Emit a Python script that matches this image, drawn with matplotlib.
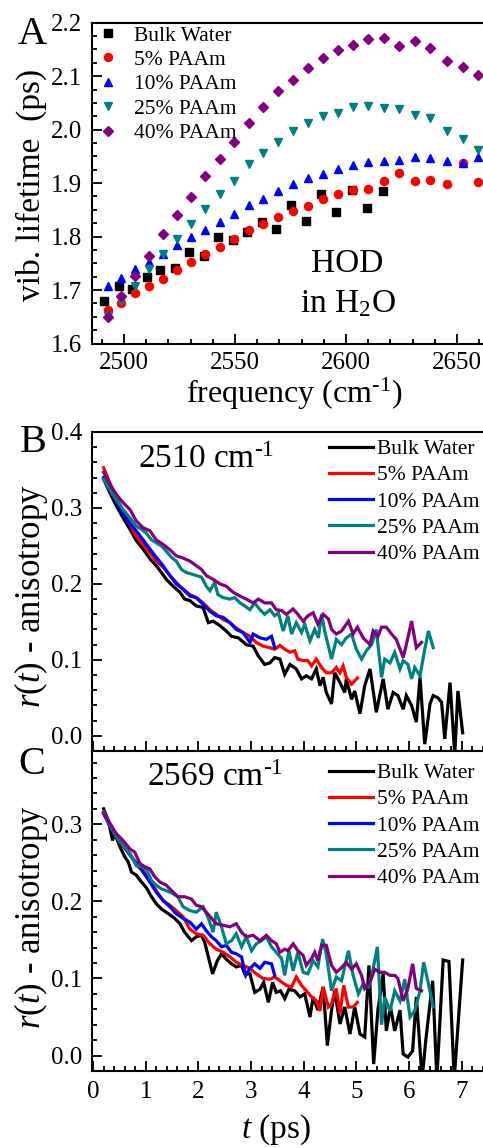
import matplotlib
matplotlib.use("Agg")
import matplotlib.pyplot as plt
from matplotlib.ticker import MultipleLocator, FormatStrFormatter

plt.rcParams['font.family'] = ['Liberation Serif', 'DejaVu Serif']
plt.rcParams['mathtext.fontset'] = 'custom'
plt.rcParams['mathtext.rm'] = 'Liberation Serif'
plt.rcParams['mathtext.it'] = 'Liberation Serif:italic'
plt.rcParams['savefig.bbox'] = 'standard'

# ---------------- Panel A data ----------------
freq = [2492.6, 2498.6, 2505.0, 2511.3, 2517.6, 2523.9, 2530.2, 2536.5, 2543.2, 2549.7,
        2556.3, 2562.8, 2569.4, 2576.3, 2582.7, 2589.6, 2596.4, 2603.3, 2610.1, 2617.0,
        2624.0, 2631.2, 2638.0, 2645.3, 2652.6, 2659.6]
freq_bulk = [2491.1, 2497.6, 2503.6, 2510.2, 2516.4, 2523.0, 2529.4, 2535.9, 2542.2, 2549.0,
             2555.4, 2562.0, 2568.6, 2575.2, 2582.0, 2588.7, 2595.6, 2602.6, 2609.5, 2616.5]
lt_bulk = [1.679, 1.708, 1.702, 1.724, 1.737, 1.741, 1.772, 1.764, 1.799, 1.794,
           1.809, 1.827, 1.815, 1.859, 1.830, 1.880, 1.846, 1.888, 1.853, 1.886]
lt_5 = [1.663, 1.676, 1.694, 1.707, 1.721, 1.737, 1.752, 1.768, 1.781, 1.796, 1.812, 1.823, 1.837,
        1.847, 1.857, 1.870, 1.879, 1.887, 1.889, 1.903, 1.918, 1.904, 1.906, 1.899, 1.937, 1.902]
lt_10 = [1.707, 1.723, 1.739, 1.752, 1.768, 1.784, 1.800, 1.813, 1.828, 1.843, 1.859, 1.871, 1.886,
         1.898, 1.909, 1.917, 1.927, 1.934, 1.940, 1.942, 1.944, 1.949, 1.947, 1.942, 1.938, 1.949]
lt_25 = [1.652, 1.679, 1.707, 1.739, 1.768, 1.795, 1.823, 1.851, 1.879, 1.903, 1.935, 1.957, 1.977,
         1.997, 2.013, 2.025, 2.031, 2.043, 2.044, 2.041, 2.039, 2.028, 2.021, 1.997, 1.982, 1.962]
lt_40 = [1.650, 1.689, 1.727, 1.764, 1.804, 1.840, 1.874, 1.913, 1.945, 1.977, 2.013, 2.042, 2.072,
         2.093, 2.115, 2.134, 2.149, 2.159, 2.169, 2.171, 2.157, 2.165, 2.152, 2.128, 2.117, 2.102]

labels = ['Bulk Water', '5% PAAm', '10% PAAm', '25% PAAm', '40% PAAm']
colors = ['#000000', '#ff0000', '#0000ff', '#008080', '#800080']

# ---------------- Panel B data (2510 cm-1) ----------------
tB_bulk = [0.20, 0.32, 0.44, 0.57, 0.70, 0.82, 0.95, 1.08, 1.20, 1.30, 1.39, 1.52, 1.65, 1.74, 1.84,
           1.96, 2.09, 2.19, 2.28, 2.41, 2.53, 2.63, 2.76, 2.91, 3.04, 3.14, 3.26, 3.36, 3.45, 3.55,
           3.64, 3.74, 3.86, 3.96, 4.05, 4.15, 4.24, 4.31, 4.37, 4.43, 4.53, 4.59, 4.69, 4.78, 4.81,
           4.91, 4.97, 5.07, 5.16, 5.26, 5.38, 5.51, 5.60, 5.70, 5.79, 5.89, 5.95, 6.05, 6.14, 6.21,
           6.30, 6.40, 6.46, 6.55, 6.62, 6.68, 6.78, 6.87, 6.93, 7.02]
rB_bulk = [0.338, 0.320, 0.303, 0.287, 0.272, 0.257, 0.246, 0.233, 0.224, 0.215, 0.206, 0.197, 0.189,
           0.180, 0.178, 0.171, 0.169, 0.149, 0.151, 0.145, 0.138, 0.131, 0.129, 0.120, 0.118, 0.105,
           0.094, 0.096, 0.103, 0.101, 0.081, 0.094, 0.088, 0.075, 0.079, 0.075, 0.088, 0.066, 0.077,
           0.057, 0.042, 0.083, 0.070, 0.057, 0.075, 0.048, 0.059, 0.029, 0.066, 0.088, 0.031, 0.075,
           0.035, 0.057, 0.053, 0.035, 0.053, 0.040, 0.018, 0.077, -0.011, 0.042, 0.053, 0.050, 0.044,
           -0.004, 0.070, -0.025, 0.059, 0.004]
tB_5 = [0.20, 0.32, 0.44, 0.57, 0.70, 0.82, 0.95, 1.08, 1.20, 1.33, 1.46, 1.58, 1.71, 1.84, 1.96,
        2.09, 2.22, 2.34, 2.47, 2.60, 2.72, 2.85, 2.98, 3.10, 3.23, 3.36, 3.45, 3.55, 3.64, 3.74,
        3.83, 3.89, 3.99, 4.08, 4.15, 4.24, 4.34, 4.43, 4.53, 4.62, 4.69, 4.75, 4.81, 4.91, 5.02]
rB_5 = [0.353, 0.333, 0.314, 0.296, 0.279, 0.263, 0.252, 0.241, 0.230, 0.222, 0.211, 0.202, 0.193,
        0.186, 0.182, 0.175, 0.166, 0.160, 0.153, 0.149, 0.142, 0.136, 0.131, 0.123, 0.118, 0.116,
        0.114, 0.119, 0.114, 0.110, 0.112, 0.101, 0.099, 0.099, 0.092, 0.101, 0.090, 0.083, 0.083,
        0.090, 0.083, 0.092, 0.077, 0.068, 0.076]
tB_10 = [0.20, 0.32, 0.44, 0.57, 0.70, 0.82, 0.95, 1.08, 1.20, 1.33, 1.46, 1.58, 1.71, 1.84, 1.96,
         2.09, 2.22, 2.34, 2.47, 2.60, 2.72, 2.85, 2.98, 3.04, 3.17, 3.29, 3.39, 3.45]
rB_10 = [0.340, 0.324, 0.309, 0.293, 0.280, 0.270, 0.258, 0.246, 0.235, 0.224, 0.211, 0.200, 0.193,
         0.184, 0.182, 0.173, 0.164, 0.158, 0.156, 0.149, 0.140, 0.136, 0.123, 0.134, 0.129, 0.127,
         0.131, 0.116]
tB_25 = [0.20, 0.32, 0.44, 0.57, 0.70, 0.82, 0.92, 1.01, 1.11, 1.20, 1.30, 1.39, 1.49, 1.58, 1.68,
         1.77, 1.87, 1.96, 2.06, 2.15, 2.22, 2.31, 2.37, 2.47, 2.60, 2.69, 2.79, 2.88, 2.98, 3.07,
         3.17, 3.26, 3.36, 3.45, 3.52, 3.61, 3.70, 3.77, 3.86, 3.96, 4.02, 4.12, 4.21, 4.28, 4.34,
         4.40, 4.53, 4.62, 4.72, 4.81, 4.91, 5.00, 5.10, 5.19, 5.29, 5.38, 5.48, 5.54, 5.64, 5.73,
         5.83, 5.89, 5.98, 6.05, 6.11, 6.21, 6.30, 6.37, 6.46]
rB_25 = [0.338, 0.324, 0.311, 0.298, 0.287, 0.276, 0.272, 0.267, 0.258, 0.254, 0.250, 0.243, 0.235,
         0.230, 0.219, 0.215, 0.213, 0.211, 0.209, 0.197, 0.191, 0.202, 0.186, 0.182, 0.180, 0.182,
         0.175, 0.171, 0.166, 0.175, 0.166, 0.160, 0.166, 0.158, 0.162, 0.138, 0.158, 0.134, 0.149,
         0.136, 0.147, 0.125, 0.140, 0.129, 0.160, 0.138, 0.101, 0.127, 0.120, 0.129, 0.134, 0.114,
         0.101, 0.112, 0.120, 0.140, 0.077, 0.101, 0.096, 0.110, 0.088, 0.099, 0.094, 0.075, 0.090,
         0.079, 0.114, 0.138, 0.116]
tB_40 = [0.20, 0.32, 0.44, 0.57, 0.70, 0.82, 0.95, 1.08, 1.20, 1.33, 1.46, 1.58, 1.71, 1.84, 1.96,
         2.06, 2.15, 2.28, 2.41, 2.53, 2.66, 2.79, 2.91, 3.04, 3.14, 3.26, 3.39, 3.48, 3.58, 3.67,
         3.80, 3.89, 3.99, 4.08, 4.18, 4.27, 4.37, 4.47, 4.53, 4.62, 4.72, 4.85, 4.94, 5.02, 5.13,
         5.26, 5.32, 5.41, 5.48, 5.57, 5.67, 5.76, 5.89, 5.95, 6.05, 6.14, 6.24]
rB_40 = [0.347, 0.331, 0.318, 0.307, 0.298, 0.283, 0.274, 0.270, 0.258, 0.252, 0.245, 0.237, 0.234,
         0.230, 0.224, 0.219, 0.211, 0.206, 0.200, 0.197, 0.189, 0.184, 0.180, 0.175, 0.180, 0.175,
         0.175, 0.166, 0.165, 0.160, 0.167, 0.160, 0.151, 0.158, 0.162, 0.147, 0.160, 0.154, 0.140,
         0.134, 0.138, 0.151, 0.134, 0.143, 0.129, 0.120, 0.138, 0.131, 0.143, 0.143, 0.134, 0.127,
         0.103, 0.120, 0.151, 0.116, 0.123]

# ---------------- Panel C data (2569 cm-1) ----------------
tC_bulk = [0.20, 0.29, 0.37, 0.41, 0.51, 0.60, 0.67, 0.73, 0.82, 0.92, 1.01, 1.11, 1.20, 1.30, 1.43,
           1.55, 1.65, 1.74, 1.87, 1.96, 2.06, 2.12, 2.19, 2.27, 2.36, 2.44, 2.53, 2.63, 2.72, 2.82,
           2.88, 2.98, 3.07, 3.17, 3.24, 3.33, 3.41, 3.48, 3.56, 3.64, 3.72, 3.83, 3.93, 4.02, 4.12,
           4.18, 4.27, 4.37, 4.45, 4.53, 4.59, 4.69, 4.78, 4.88, 4.97, 5.07, 5.16, 5.24, 5.33, 5.41,
           5.51, 5.57, 5.65, 5.73, 5.83, 5.89, 5.98, 6.07, 6.14, 6.25, 6.32, 6.45, 6.53, 6.65, 6.76,
           6.86, 7.02]
rC_bulk = [0.320, 0.305, 0.279, 0.288, 0.271, 0.258, 0.251, 0.238, 0.234, 0.225, 0.218, 0.206, 0.197,
           0.190, 0.184, 0.178, 0.171, 0.160, 0.149, 0.154, 0.156, 0.147, 0.128, 0.106, 0.123, 0.132,
           0.125, 0.119, 0.115, 0.117, 0.106, 0.106, 0.082, 0.086, 0.095, 0.069, 0.095, 0.082, 0.084,
           0.074, 0.086, 0.084, 0.076, 0.080, 0.050, 0.076, 0.059, 0.089, 0.013, 0.059, 0.084, 0.041,
           0.063, 0.028, 0.063, 0.028, 0.024, 0.117, -0.011, 0.059, 0.106, 0.032, 0.063, 0.032, 0.059,
           0.002, -0.002, 0.006, 0.076, -0.030, 0.020, 0.097, -0.030, 0.124, 0.122, -0.030, 0.124]
tC_5 = [0.20, 0.32, 0.44, 0.57, 0.70, 0.82, 0.95, 1.08, 1.20, 1.33, 1.46, 1.58, 1.71, 1.84, 1.96,
        2.09, 2.22, 2.34, 2.47, 2.60, 2.72, 2.85, 2.98, 3.10, 3.23, 3.36, 3.45, 3.55, 3.67, 3.77,
        3.86, 3.96, 4.05, 4.15, 4.24, 4.31, 4.37, 4.47, 4.53, 4.62, 4.69, 4.76, 4.85, 4.94, 5.02]
rC_5 = [0.316, 0.301, 0.286, 0.271, 0.262, 0.247, 0.240, 0.227, 0.214, 0.201, 0.195, 0.188, 0.180,
        0.164, 0.158, 0.156, 0.145, 0.138, 0.134, 0.128, 0.121, 0.117, 0.113, 0.106, 0.100, 0.099,
        0.102, 0.097, 0.091, 0.089, 0.102, 0.091, 0.084, 0.076, 0.071, 0.058, 0.089, 0.063, 0.067,
        0.087, 0.054, 0.091, 0.063, 0.063, 0.069]
tC_10 = [0.20, 0.33, 0.44, 0.57, 0.70, 0.82, 0.95, 1.08, 1.20, 1.33, 1.46, 1.58, 1.71, 1.84, 1.96,
         2.06, 2.15, 2.25, 2.34, 2.44, 2.53, 2.63, 2.72, 2.82, 2.90, 2.98, 3.07, 3.17, 3.26, 3.39, 3.45]
rC_10 = [0.314, 0.296, 0.284, 0.273, 0.260, 0.250, 0.238, 0.225, 0.212, 0.201, 0.193, 0.184, 0.178,
         0.173, 0.164, 0.171, 0.162, 0.154, 0.149, 0.141, 0.143, 0.134, 0.132, 0.128, 0.104, 0.113,
         0.119, 0.113, 0.121, 0.119, 0.104]
tC_25 = [0.20, 0.32, 0.44, 0.57, 0.70, 0.82, 0.92, 1.01, 1.11, 1.20, 1.30, 1.39, 1.52, 1.61, 1.71,
         1.84, 1.96, 2.09, 2.19, 2.28, 2.34, 2.44, 2.53, 2.63, 2.72, 2.82, 2.91, 3.01, 3.10, 3.20,
         3.29, 3.39, 3.48, 3.58, 3.64, 3.72, 3.80, 3.89, 3.99, 4.08, 4.18, 4.27, 4.36, 4.43, 4.53,
         4.62, 4.72, 4.85, 4.94, 5.04, 5.13, 5.23, 5.29, 5.40, 5.48, 5.54, 5.64, 5.73, 5.83, 5.92,
         6.02, 6.11, 6.21, 6.28, 6.37, 6.46]
rC_25 = [0.316, 0.299, 0.284, 0.273, 0.262, 0.247, 0.245, 0.242, 0.227, 0.221, 0.216, 0.214, 0.210,
         0.206, 0.193, 0.188, 0.186, 0.193, 0.178, 0.160, 0.186, 0.167, 0.145, 0.149, 0.158, 0.141,
         0.154, 0.136, 0.145, 0.149, 0.154, 0.141, 0.134, 0.126, 0.104, 0.136, 0.110, 0.134, 0.108,
         0.106, 0.123, 0.115, 0.151, 0.132, 0.084, 0.102, 0.097, 0.136, 0.104, 0.080, 0.093, 0.089,
         0.102, 0.141, 0.040, 0.076, 0.058, 0.084, 0.071, 0.099, 0.050, 0.058, 0.084, 0.121, 0.093,
         0.063]
tC_40 = [0.20, 0.32, 0.44, 0.57, 0.70, 0.79, 0.89, 0.98, 1.08, 1.17, 1.27, 1.39, 1.52, 1.61, 1.74,
         1.87, 1.96, 2.06, 2.15, 2.25, 2.34, 2.47, 2.60, 2.72, 2.82, 2.91, 3.04, 3.17, 3.29, 3.39,
         3.48, 3.55, 3.64, 3.70, 3.80, 3.89, 3.99, 4.05, 4.15, 4.21, 4.27, 4.34, 4.43, 4.53, 4.62,
         4.72, 4.81, 4.91, 5.00, 5.10, 5.16, 5.26, 5.35, 5.45, 5.54, 5.64, 5.73, 5.79, 5.89, 5.98,
         6.07, 6.14, 6.24]
rC_40 = [0.314, 0.301, 0.288, 0.279, 0.268, 0.264, 0.249, 0.245, 0.242, 0.232, 0.225, 0.221, 0.212,
         0.206, 0.206, 0.203, 0.195, 0.193, 0.186, 0.178, 0.171, 0.169, 0.167, 0.171, 0.160, 0.154,
         0.156, 0.149, 0.156, 0.149, 0.145, 0.134, 0.138, 0.136, 0.145, 0.136, 0.130, 0.117, 0.126,
         0.134, 0.123, 0.143, 0.143, 0.117, 0.108, 0.114, 0.121, 0.112, 0.119, 0.104, 0.087, 0.095,
         0.112, 0.108, 0.108, 0.104, 0.104, 0.100, 0.071, 0.087, 0.119, 0.087, 0.084]

# ---------------- Figure layout ----------------
W, H = 483, 1148
fig = plt.figure(figsize=(W / 100, H / 100), dpi=100)


def px_axes(left, top, right, bottom):
    return fig.add_axes([left / W, 1 - bottom / H, (right - left) / W, (bottom - top) / H])


TICK_FS = 18
SUP = '$^{\\text{-1}}$'


def style_axes(ax):
    for s in ax.spines.values():
        s.set_linewidth(1.5)
    ax.tick_params(which='both', direction='in', top=False, right=False, width=1.3,
                   labelsize=TICK_FS)
    ax.tick_params(which='major', length=7, pad=7)
    ax.tick_params(which='minor', length=3.5)


# Panel A  (right edge of the frame lies outside the figure, as in the original)
RIGHT = 495
axA = px_axes(92, 22.7, RIGHT, 343.5)
style_axes(axA)
axA.tick_params(axis='x', pad=6)
markers = ['s', 'o', '^', 'v', 'D']
msizes = [5.2, 5.8, 6.3, 6.3, 5.0]
series_A = [(freq_bulk, lt_bulk), (freq, lt_5), (freq, lt_10), (freq, lt_25), (freq, lt_40)]
for (x, y), m, ms, c, lab in zip(series_A, markers, msizes, colors, labels):
    axA.plot(x, y, linestyle='none', marker=m, ms=ms, color=c, mec=c, label=lab)
px_per_cm = 111.0 / 50.0
axA.set_xlim(2485.6, 2485.6 + (RIGHT - 92) / px_per_cm)
axA.set_ylim(1.6, 2.2)
axA.xaxis.set_major_locator(MultipleLocator(50))
axA.xaxis.set_minor_locator(MultipleLocator(10))
axA.yaxis.set_major_locator(MultipleLocator(0.1))
axA.yaxis.set_minor_locator(MultipleLocator(0.025))
axA.set_xlabel('frequency (cm' + SUP + ')', fontsize=23)
axA.xaxis.set_label_coords((294 - 92) / (RIGHT - 92), -(394 - 343.5) / (343.5 - 22.7))
axA.xaxis.label.set_va('center')
axA.set_ylabel('vib. lifetime  (ps)', fontsize=24)
axA.yaxis.set_label_coords(-(92 - 31) / (RIGHT - 92), (343.5 - 185) / (343.5 - 22.7))
axA.yaxis.label.set_va('center')
axA.legend(loc='upper left', bbox_to_anchor=(97 / W, 1 - 25.5 / H), bbox_transform=fig.transFigure,
           frameon=False, fontsize=15.5, handlelength=1.0, handletextpad=0.72,
           labelspacing=0.2, borderpad=0, borderaxespad=0)
axA.text(0.634, 0.25, 'HOD', transform=axA.transAxes, ha='center', va='center', fontsize=24)
axA.text(0.634, 0.125, 'in H$_2$O', transform=axA.transAxes, ha='center', va='center', fontsize=24)

px_per_ps = 52.65


def decay_panel(ax, series, ylim_top, legend_top, label_center):
    style_axes(ax)
    for (t, r), c, lab in zip(series, colors, labels):
        ax.plot(t, r, color=c, lw=2.3, label=lab, solid_joinstyle='miter')
    ax.set_xlim(-0.02, -0.02 + (RIGHT - 92) / px_per_ps)
    ax.set_ylim(-0.02, ylim_top)
    ax.xaxis.set_major_locator(MultipleLocator(1))
    ax.xaxis.set_minor_locator(MultipleLocator(0.2))
    ax.yaxis.set_major_locator(MultipleLocator(0.1))
    ax.yaxis.set_minor_locator(MultipleLocator(0.02))
    ax.yaxis.set_major_formatter(FormatStrFormatter('%.1f'))
    ax.set_ylabel('$r(t)$ - anisotropy', fontsize=25)
    bbox = ax.get_position()
    top_px = (1 - bbox.y1) * H
    bot_px = (1 - bbox.y0) * H
    ax.yaxis.set_label_coords(-(92 - 31) / (RIGHT - 92), (bot_px - label_center) / (bot_px - top_px))
    ax.yaxis.label.set_va('center')
    ax.legend(loc='upper left', bbox_to_anchor=(329 / W, 1 - legend_top / H),
              bbox_transform=fig.transFigure, frameon=False, fontsize=15.5,
              handlelength=2.05, handletextpad=0.2, labelspacing=0.29,
              borderpad=0, borderaxespad=0)


axB = px_axes(92, 432, RIGHT, 751)
decay_panel(axB, [(tB_bulk, rB_bulk), (tB_5, rB_5), (tB_10, rB_10), (tB_25, rB_25), (tB_40, rB_40)],
            0.4, 439, 596)
axB.tick_params(axis='x', labelbottom=False)
fig.text(138 / W, 1 - 460 / H, '2510 cm' + SUP, ha='left', va='center', fontsize=24)

axC = px_axes(92, 751, RIGHT, 1071)
decay_panel(axC, [(tC_bulk, rC_bulk), (tC_5, rC_5), (tC_10, rC_10), (tC_25, rC_25), (tC_40, rC_40)],
            0.395, 763, 917)
axC.set_xlabel('$t$ (ps)', fontsize=24)
axC.xaxis.set_label_coords((276 - 92) / (RIGHT - 92), -(1130 - 1071) / (1071 - 751))
axC.xaxis.label.set_va('center')
fig.text(147 / W, 1 - 778 / H, '2569 cm' + SUP, ha='left', va='center', fontsize=24)

fig.text(32 / W, 1 - 34 / H, 'A', fontsize=29, ha='center', va='center')
fig.text(33 / W, 1 - 443 / H, 'B', fontsize=29, ha='center', va='center')
fig.text(32 / W, 1 - 765 / H, 'C', fontsize=29, ha='center', va='center')

fig.savefig('out.png', dpi=100, bbox_inches=None)
